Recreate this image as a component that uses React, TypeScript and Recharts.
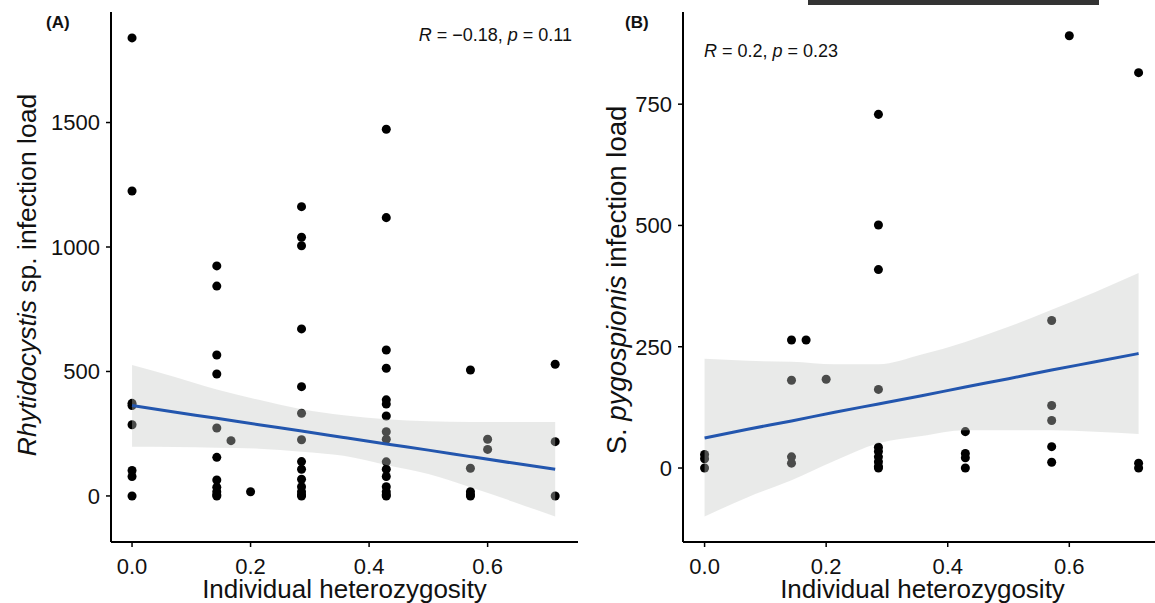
import React from 'react';
import { ComposedChart, Scatter, Area, Line, XAxis, YAxis } from 'recharts';

// Panel A: Rhytidocystis sp. load vs heterozygosity
const hetA = [
  0, 0, 0, 0, 0, 0, 0, 0,
  0.143, 0.143, 0.143, 0.143, 0.143, 0.143, 0.143, 0.143, 0.143, 0.143, 0.143,
  0.167, 0.2,
  0.286, 0.286, 0.286, 0.286, 0.286, 0.286, 0.286, 0.286, 0.286, 0.286, 0.286, 0.286, 0.286, 0.286,
  0.429, 0.429, 0.429, 0.429, 0.429, 0.429, 0.429, 0.429, 0.429, 0.429, 0.429, 0.429, 0.429, 0.429, 0.429, 0.429,
  0.571, 0.571, 0.571, 0.571, 0.571,
  0.6, 0.6,
  0.714, 0.714, 0.714,
];
const loadA = [
  1840, 1225, 372, 363, 286, 102, 78, 0,
  924, 843, 566, 490, 273, 155, 64, 35, 17, 5, 0,
  222, 17,
  1162, 1039, 1005, 671, 439, 332, 226, 138, 107, 67, 37, 17, 5, 0,
  1473, 1118, 586, 513, 386, 369, 321, 258, 228, 137, 107, 78, 37, 17, 5, 0,
  506, 111, 17, 5, 0,
  228, 187,
  529, 218, 0,
];

// Panel B: S. pygospionis load vs heterozygosity
const hetB = [
  0, 0, 0,
  0.143, 0.143, 0.143, 0.143,
  0.167, 0.2,
  0.286, 0.286, 0.286, 0.286, 0.286, 0.286, 0.286, 0.286, 0.286, 0.286,
  0.429, 0.429, 0.429, 0.429,
  0.571, 0.571, 0.571, 0.571, 0.571,
  0.6,
  0.714, 0.714, 0.714,
];
const loadB = [
  28, 19, 0,
  264, 181, 23, 10,
  264, 183,
  729, 501, 409, 162, 43, 34, 23, 13, 3, 0,
  75, 30, 21, 0,
  304, 129, 98, 44, 12,
  891,
  815, 10, 0,
];

// linear fit and confidence band
const bandX = [0, 0.071, 0.143, 0.214, 0.286, 0.357, 0.429, 0.5, 0.571, 0.643, 0.714];
const fitA = [363, 337, 312, 286, 261, 235, 209, 184, 158, 132, 107];
const lowA = [198, 197, 194, 190, 178, 161, 124, 88, 35, -23, -83];
const highA = [526, 479, 428, 386, 348, 324, 308, 300, 297, 297, 297];
const fitB = [62, 80, 97, 115, 132, 149, 167, 184, 202, 219, 236];
const lowB = [-100, -60, -25, 15, 51, 66, 78, 78, 78, 75, 70];
const highB = [225, 221, 219, 214, 214, 234, 260, 291, 326, 363, 402];

const xTicks = [0, 0.2, 0.4, 0.6];
const yTicksA = [0, 500, 1000, 1500];
const yTicksB = [0, 250, 500, 750];

const FONT = '"Liberation Sans", Arial, sans-serif';
const INK = '#111';

const toPoints = (xs: number[], ys: number[]) => xs.map((x, i) => ({ x, y: ys[i] }));
const toBand = (fit: number[], lo: number[], hi: number[]) =>
  bandX.map((x, i) => ({ x, fit: fit[i], band: [lo[i], hi[i]] }));

type PanelProps = {
  left: number;
  width: number;
  yAxisWidth: number;
  marginRight: number;
  yDomain: [number, number];
  yTicks: number[];
  points: { x: number; y: number }[];
  band: { x: number; fit: number; band: number[] }[];
};

function Panel({ left, width, yAxisWidth, marginRight, yDomain, yTicks, points, band }: PanelProps) {
  return (
    <div style={{ position: 'absolute', left, top: 0 }}>
      <ComposedChart
        width={width}
        height={603}
        data={band}
        margin={{ top: 12, right: marginRight, bottom: 0, left: 0 }}
      >
        <XAxis
          type="number"
          dataKey="x"
          domain={[-0.0355, 0.7525]}
          ticks={xTicks}
          allowDataOverflow
          tickFormatter={(v: number) => v.toFixed(1)}
          height={61}
          tickSize={5}
          tickMargin={11}
          tick={{ fontSize: 22, fill: INK, fontFamily: FONT }}
          axisLine={{ stroke: '#000', strokeWidth: 2 }}
          tickLine={{ stroke: '#000', strokeWidth: 1.5 }}
        />
        <YAxis
          type="number"
          dataKey="y"
          domain={yDomain}
          ticks={yTicks}
          allowDataOverflow
          width={yAxisWidth}
          tickSize={5}
          tickMargin={6}
          tick={{ fontSize: 22, fill: INK, fontFamily: FONT }}
          axisLine={{ stroke: '#000', strokeWidth: 2 }}
          tickLine={{ stroke: '#000', strokeWidth: 1.5 }}
        />
        <Scatter data={points} fill="#000" isAnimationActive={false} />
        <Area
          type="monotone"
          dataKey="band"
          stroke="none"
          fill="#c4c8c6"
          fillOpacity={0.38}
          isAnimationActive={false}
          zIndex={650}
        />
        <Line
          type="monotone"
          dataKey="fit"
          stroke="#2356ae"
          strokeWidth={3}
          dot={false}
          activeDot={false}
          isAnimationActive={false}
          zIndex={700}
        />
      </ComposedChart>
    </div>
  );
}

export default function App() {
  return (
    <div
      style={{
        position: 'absolute',
        left: 0,
        top: 0,
        width: 1155,
        height: 603,
        overflow: 'hidden',
        background: '#fff',
        fontFamily: FONT,
      }}
    >
      <Panel
        left={0}
        width={580}
        yAxisWidth={111}
        marginRight={2}
        yDomain={[-185, 1944]}
        yTicks={yTicksA}
        points={toPoints(hetA, loadA)}
        band={toBand(fitA, lowA, highA)}
      />
      <Panel
        left={578}
        width={590}
        yAxisWidth={105}
        marginRight={6}
        yDomain={[-152.5, 940]}
        yTicks={yTicksB}
        points={toPoints(hetB, loadB)}
        band={toBand(fitB, lowB, highB)}
      />

      {/* titles and annotations */}
      <svg
        width={1155}
        height={603}
        style={{ position: 'absolute', left: 0, top: 0, pointerEvents: 'none' }}
        fontFamily={FONT}
        fill={INK}
      >
        <rect x={808} y={0} width={291} height={5} fill="#333" />

        <text x={46} y={28} fontSize={17} fontWeight="bold">(A)</text>
        <text x={625} y={28} fontSize={17} fontWeight="bold">(B)</text>

        <text x={572} y={41} fontSize={18} textAnchor="end">
          <tspan fontStyle="italic">R</tspan>
          {' = \u22120.18, '}
          <tspan fontStyle="italic">p</tspan>
          {' = 0.11'}
        </text>
        <text x={704} y={57} fontSize={18}>
          <tspan fontStyle="italic">R</tspan>
          {' = 0.2, '}
          <tspan fontStyle="italic">p</tspan>
          {' = 0.23'}
        </text>

        <text x={344.5} y={598} fontSize={26} textAnchor="middle">Individual heterozygosity</text>
        <text x={922.5} y={598} fontSize={26} textAnchor="middle">Individual heterozygosity</text>

        <text transform="translate(36,275) rotate(-90)" fontSize={26.5} textAnchor="middle">
          <tspan fontStyle="italic">Rhytidocystis</tspan>
          {' sp. infection load'}
        </text>
        <text transform="translate(626,280) rotate(-90)" fontSize={27.5} textAnchor="middle">
          {'S. '}
          <tspan fontStyle="italic">pygospionis</tspan>
          {' infection load'}
        </text>
      </svg>
    </div>
  );
}
